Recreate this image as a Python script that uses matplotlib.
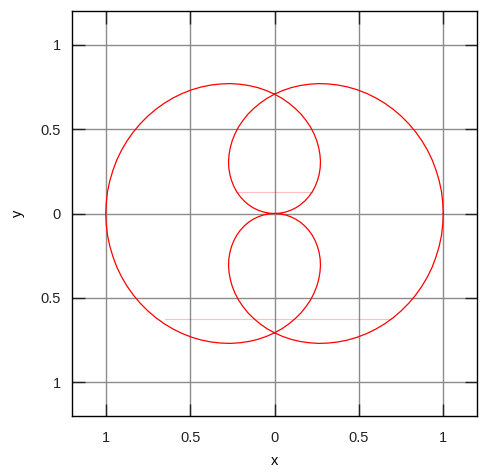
import numpy as np
import matplotlib
matplotlib.use("Agg")
import matplotlib.pyplot as plt

# radius every 3.75 degrees, theta from 0 to 720
r_values = [
    1.000, 0.999, 0.998, 0.995, 0.991, 0.987, 0.981, 0.974, 0.966, 0.957,
    0.947, 0.936, 0.924, 0.911, 0.897, 0.882, 0.866, 0.849, 0.831, 0.813,
    0.793, 0.773, 0.752, 0.730, 0.707, 0.684, 0.659, 0.634, 0.609, 0.582,
    0.556, 0.528, 0.500, 0.471, 0.442, 0.413, 0.383, 0.352, 0.321, 0.290,
    0.259, 0.227, 0.195, 0.163, 0.131, 0.098, 0.065, 0.033, 0.000,
    -0.033, -0.065, -0.098, -0.131, -0.163, -0.195, -0.227, -0.259, -0.290,
    -0.321, -0.352, -0.383, -0.413, -0.442, -0.471, -0.500, -0.528, -0.556,
    -0.582, -0.609, -0.634, -0.659, -0.684, -0.707, -0.730, -0.752, -0.773,
    -0.793, -0.813, -0.831, -0.849, -0.866, -0.882, -0.897, -0.911, -0.924,
    -0.936, -0.947, -0.957, -0.966, -0.974, -0.981, -0.987, -0.991, -0.995,
    -0.998, -0.999, -1.000,
    -0.999, -0.998, -0.995, -0.991, -0.987, -0.981, -0.974, -0.966, -0.957,
    -0.947, -0.936, -0.924, -0.911, -0.897, -0.882, -0.866, -0.849, -0.831,
    -0.813, -0.793, -0.773, -0.752, -0.730, -0.707, -0.684, -0.659, -0.634,
    -0.609, -0.582, -0.556, -0.528, -0.500, -0.471, -0.442, -0.413, -0.383,
    -0.352, -0.321, -0.290, -0.259, -0.227, -0.195, -0.163, -0.131, -0.098,
    -0.065, -0.033, 0.000,
    0.033, 0.065, 0.098, 0.131, 0.163, 0.195, 0.227, 0.259, 0.290, 0.321,
    0.352, 0.383, 0.413, 0.442, 0.471, 0.500, 0.528, 0.556, 0.582, 0.609,
    0.634, 0.659, 0.684, 0.707, 0.730, 0.752, 0.773, 0.793, 0.813, 0.831,
    0.849, 0.866, 0.882, 0.897, 0.911, 0.924, 0.936, 0.947, 0.957, 0.966,
    0.974, 0.981, 0.987, 0.991, 0.995, 0.998, 0.999, 1.000,
]
theta_deg = np.arange(len(r_values)) * 3.75

# faint horizontal artefact lines seen in the picture
faint_y = [0.13, -0.627]
faint_x0 = [-0.22, -0.65]
faint_x1 = [0.225, 0.69]

tick_vals = [-1, -0.5, 0, 0.5, 1]
tick_labels = ["1", "0.5", "0", "0.5", "1"]

plt.rcParams["font.family"] = ["Liberation Sans", "DejaVu Sans"]

fig = plt.figure(figsize=(4.88, 4.76), dpi=100)
ax = fig.add_axes([72 / 488, 60 / 476, 405 / 488, 405 / 476])

r = np.array(r_values)
th = np.deg2rad(theta_deg)
ax.plot(r * np.cos(th), r * np.sin(th), color="red", lw=0.9, zorder=3)

for y, a, b in zip(faint_y, faint_x0, faint_x1):
    ax.plot([a, b], [y, y], color="red", lw=0.8, alpha=0.25, zorder=2)

ax.set_xlim(-1.2, 1.2)
ax.set_ylim(-1.2, 1.2)
ax.set_xticks(tick_vals)
ax.set_xticklabels(tick_labels)
ax.set_yticks(tick_vals)
ax.set_yticklabels(tick_labels)
ax.grid(True, color="#8c8c8c", lw=1.0)
ax.tick_params(direction="in", length=9, width=1, labelsize=10.5,
               top=True, right=True, colors="#222222")
ax.tick_params(axis="x", pad=11)
ax.tick_params(axis="y", pad=8)
for s in ax.spines.values():
    s.set_linewidth(1.0)
ax.set_xlabel("x", fontsize=10.5, labelpad=6)
ax.set_ylabel("y", fontsize=10.5, labelpad=11)

fig.savefig("out.png", dpi=100)
